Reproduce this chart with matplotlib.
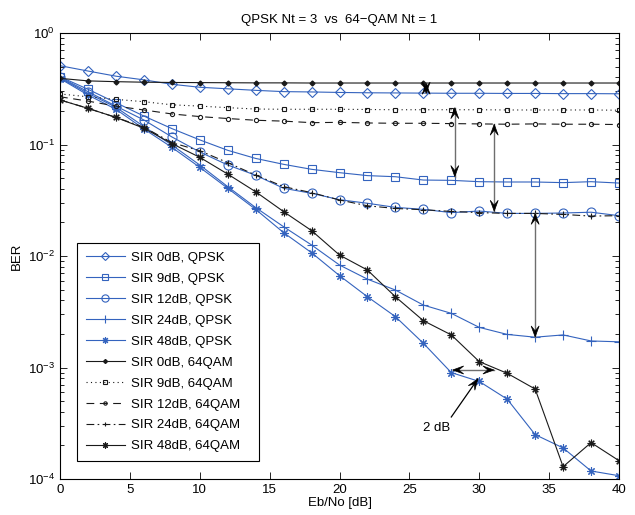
import numpy as np
import matplotlib
matplotlib.use("Agg")
import matplotlib.pyplot as plt
from matplotlib.patches import Polygon
from matplotlib.lines import Line2D
from matplotlib.transforms import IdentityTransform
from matplotlib.ticker import LogLocator, NullFormatter, FixedLocator

plt.rcParams['font.family'] = ['Liberation Sans', 'DejaVu Sans']
plt.rcParams['mathtext.fontset'] = 'custom'
plt.rcParams['mathtext.rm'] = 'Liberation Sans'
plt.rcParams['mathtext.it'] = 'Liberation Sans'

# Eb/No grid (dB)
ebno = [0, 2, 4, 6, 8, 10, 12, 14, 16, 18, 20, 22, 24, 26, 28, 30, 32, 34, 36, 38, 40]

# QPSK, Nt = 3
qpsk_sir0 = [0.509, 0.456, 0.41, 0.38, 0.347, 0.326, 0.316, 0.306, 0.298, 0.296, 0.293,
             0.291, 0.29, 0.289, 0.288, 0.288, 0.287, 0.287, 0.286, 0.286, 0.285]
qpsk_sir9 = [0.405, 0.313, 0.237, 0.18, 0.139, 0.11, 0.0887, 0.075, 0.0664, 0.0599, 0.0559,
             0.0526, 0.0514, 0.048, 0.0477, 0.0464, 0.0461, 0.0461, 0.0455, 0.0464, 0.0451]
qpsk_sir12 = [0.4, 0.298, 0.221, 0.166, 0.117, 0.0857, 0.0655, 0.053, 0.0405, 0.0365, 0.032,
              0.0297, 0.0273, 0.0262, 0.0245, 0.0253, 0.0241, 0.0241, 0.0243, 0.0247, 0.023]
qpsk_sir24 = [0.395, 0.288, 0.216, 0.145, 0.099, 0.0655, 0.0419, 0.0272, 0.0183, 0.01256, 0.0083,
              0.0062, 0.00495, 0.00363, 0.00306, 0.00229, 0.00198, 0.00187, 0.00196, 0.00173, 0.0017]
qpsk_sir48 = [0.39, 0.278, 0.207, 0.138, 0.0944, 0.0624, 0.0405, 0.0262, 0.0162, 0.0107, 0.00667,
              0.00431, 0.00286, 0.00165, 0.0009, 0.00075, 0.00052, 0.00025, 0.00019, 0.000118, 0.000107]

# 64-QAM, Nt = 1
qam_sir0 = [0.392, 0.372, 0.366, 0.362, 0.36, 0.359, 0.358, 0.357, 0.357, 0.356, 0.356,
            0.356, 0.356, 0.356, 0.356, 0.356, 0.356, 0.356, 0.356, 0.356, 0.356]
qam_sir9 = [0.284, 0.268, 0.254, 0.242, 0.227, 0.221, 0.214, 0.208, 0.207, 0.207, 0.207,
            0.206, 0.205, 0.205, 0.205, 0.205, 0.204, 0.204, 0.204, 0.204, 0.203]
qam_sir12 = [0.268, 0.245, 0.221, 0.204, 0.188, 0.178, 0.171, 0.165, 0.162, 0.157, 0.158,
             0.156, 0.155, 0.155, 0.154, 0.153, 0.152, 0.153, 0.152, 0.152, 0.151]
qam_sir24 = [0.251, 0.211, 0.175, 0.143, 0.104, 0.088, 0.0687, 0.0532, 0.0419, 0.037, 0.0318,
             0.0282, 0.0267, 0.026, 0.0251, 0.0245, 0.0241, 0.0241, 0.0236, 0.0228, 0.023]
qam_sir48 = [0.251, 0.211, 0.175, 0.14, 0.102, 0.0768, 0.0543, 0.0377, 0.025, 0.0169, 0.0102,
             0.00748, 0.00431, 0.00263, 0.00196, 0.00113, 0.000887, 0.000641, 0.000129, 0.000212, 0.000146]

labels = ['SIR 0dB, QPSK', 'SIR 9dB, QPSK', 'SIR 12dB, QPSK', 'SIR 24dB, QPSK', 'SIR 48dB, QPSK',
          'SIR 0dB, 64QAM', 'SIR 9dB, 64QAM', 'SIR 12dB, 64QAM', 'SIR 24dB, 64QAM', 'SIR 48dB, 64QAM']

BLUE = '#3463BE'
BLACK = '#1a1a1a'
ASTERISK = (8, 2, 0)

fig = plt.figure(figsize=(6.35, 5.15), dpi=100)
ax = fig.add_axes([60 / 635, 36 / 515, 559 / 635, 446 / 515])
ax.set_yscale('log')

lw = 0.8
ax.plot(ebno, qpsk_sir0, color=BLUE, lw=lw, marker='D', ms=5.5, mfc='none', mew=0.8, label=labels[0])
ax.plot(ebno, qpsk_sir9, color=BLUE, lw=lw, marker='s', ms=5.8, mfc='none', mew=0.8, label=labels[1])
ax.plot(ebno, qpsk_sir12, color=BLUE, lw=lw, marker='o', ms=6.5, mfc='none', mew=0.8, label=labels[2])
ax.plot(ebno, qpsk_sir24, color=BLUE, lw=lw, marker='+', ms=6.5, mew=0.8, label=labels[3])
ax.plot(ebno, qpsk_sir48, color=BLUE, lw=lw, marker=ASTERISK, ms=6, mew=0.8, label=labels[4])

ax.plot(ebno, qam_sir0, color=BLACK, lw=lw, marker='D', ms=2.5, mfc=BLACK, label=labels[5])
ax.plot(ebno, qam_sir9, color=BLACK, lw=lw, ls=(0, (1, 3)), marker='s', ms=3, mfc='none', mew=0.8, label=labels[6])
ax.plot(ebno, qam_sir12, color=BLACK, lw=lw, ls=(0, (7, 5)), marker='o', ms=3, mfc='none', mew=0.8, label=labels[7])
ax.plot(ebno, qam_sir24, color=BLACK, lw=lw, ls=(0, (7, 3, 1.5, 3)), marker='+', ms=4, mew=0.8, label=labels[8])
ax.plot(ebno, qam_sir48, color=BLACK, lw=lw, marker=ASTERISK, ms=5.5, mew=0.8, label=labels[9])

ax.set_xlim(0, 40)
ax.set_ylim(1e-4, 1)
ax.xaxis.set_major_locator(FixedLocator([0, 5, 10, 15, 20, 25, 30, 35, 40]))
ax.yaxis.set_major_locator(LogLocator(base=10, numticks=10))
ax.yaxis.set_minor_locator(LogLocator(base=10, subs=np.arange(2, 10), numticks=20))
ax.yaxis.set_minor_formatter(NullFormatter())
ax.tick_params(which='both', direction='in', top=True, right=True, labelsize=9.5, width=0.6)
ax.tick_params(which='major', length=5)
ax.tick_params(which='minor', length=3)
for s in ax.spines.values():
    s.set_linewidth(0.8)

ax.set_xlabel('Eb/No [dB]', fontsize=9.5, labelpad=1)
ax.set_ylabel('BER', fontsize=9.5, labelpad=4)
ax.set_title('QPSK Nt = 3  vs  64\u2212QAM Nt = 1', fontsize=9.5, pad=7)

leg_w = (259 - 77) / 559
leg_h = (461 - 242) / 446
leg = ax.legend(loc='lower left', bbox_to_anchor=(17 / 559, 18 / 446, leg_w, leg_h),
                mode='expand', borderaxespad=0,
                fontsize=9.5, fancybox=False, framealpha=1, edgecolor='black',
                handlelength=3.0, handletextpad=0.45, labelspacing=0.66,
                borderpad=0.65, markerscale=0.8)
leg.get_frame().set_linewidth(0.8)


def head(tip_px, direction, L=11.0, W=8.0, notch=0.55):
    """Concave arrowhead polygon in pixel space, tip at tip_px."""
    d = np.asarray(direction, float)
    d = d / np.hypot(*d)
    n = np.array([-d[1], d[0]])
    tip = np.asarray(tip_px, float)
    pts = [tip,
           tip - L * d + 0.5 * W * n,
           tip - notch * L * d,
           tip - L * d - 0.5 * W * n]
    ax.add_artist(Polygon(pts, closed=True, transform=IdentityTransform(),
                          facecolor='black', edgecolor='black', lw=0.5, zorder=6))


def double_arrow(p0, p1, shaft='#6e6e6e'):
    a = ax.transData.transform(p0)
    b = ax.transData.transform(p1)
    ax.add_artist(Line2D([a[0], b[0]], [a[1], b[1]], transform=IdentityTransform(),
                         color=shaft, lw=1.0, zorder=5))
    head(a, a - b)
    head(b, b - a)


def single_arrow(p0, p1, color='black'):
    a = ax.transData.transform(p0)
    b = ax.transData.transform(p1)
    ax.add_artist(Line2D([a[0], b[0]], [a[1], b[1]], transform=IdentityTransform(),
                         color=color, lw=0.9, zorder=5))
    head(b, b - a)


# gaps between the QPSK and 64-QAM curves
double_arrow((26.2, 0.354), (26.2, 0.289))
double_arrow((28.25, 0.214), (28.25, 0.0516))
double_arrow((31.07, 0.152), (31.07, 0.0252))
double_arrow((34.0, 0.0241), (34.0, 0.00188))
double_arrow((28.1, 0.00095), (31.05, 0.00095))

single_arrow((28.0, 0.00036), (29.9, 0.00079))
ax.text(27.95, 0.000288, '2 dB', fontsize=9.5, ha='right', va='center')

fig.savefig('out.png', dpi=100)
